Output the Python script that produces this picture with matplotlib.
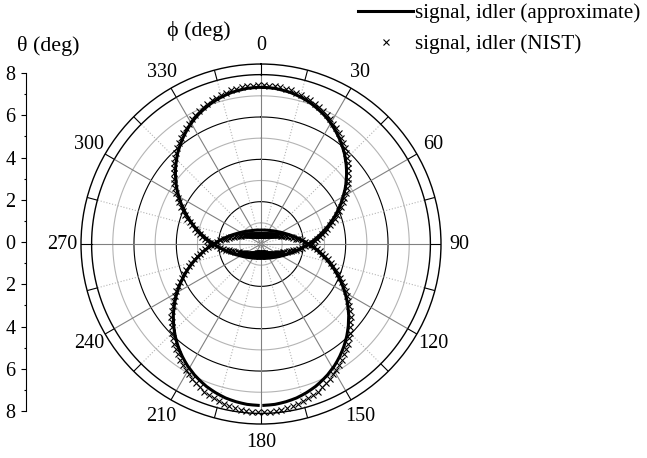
import numpy as np
import matplotlib.pyplot as plt
from matplotlib.lines import Line2D

plt.rcParams['font.family'] = ['Liberation Serif', 'DejaVu Serif']
plt.rcParams['font.size'] = 14.5

# azimuth phi (deg) for one half, 1..179; the other half mirrors it
phi_half = np.arange(1, 180, 2)

# theta (deg), signal ring (upper loop)
sig_apx = [7.40, 7.39, 7.38, 7.35, 7.32, 7.29, 7.24, 7.19, 7.13, 7.07,
           6.99, 6.91, 6.83, 6.74, 6.64, 6.53, 6.42, 6.30, 6.18, 6.05,
           5.92, 5.79, 5.64, 5.50, 5.35, 5.20, 5.04, 4.89, 4.73, 4.56,
           4.40, 4.24, 4.08, 3.91, 3.75, 3.59, 3.43, 3.28, 3.12, 2.97,
           2.83, 2.69, 2.56, 2.43, 2.30, 2.19, 2.07, 1.97, 1.87, 1.78,
           1.69, 1.61, 1.54, 1.47, 1.40, 1.34, 1.29, 1.24, 1.19, 1.14,
           1.10, 1.07, 1.03, 1.00, 0.97, 0.94, 0.92, 0.89, 0.87, 0.85,
           0.83, 0.81, 0.80, 0.78, 0.77, 0.76, 0.75, 0.74, 0.73, 0.72,
           0.71, 0.71, 0.70, 0.70, 0.69, 0.69, 0.68, 0.68, 0.68, 0.68]
sig_nist = [7.50, 7.49, 7.48, 7.45, 7.42, 7.39, 7.34, 7.29, 7.23, 7.17,
            7.09, 7.01, 6.93, 6.84, 6.74, 6.63, 6.52, 6.40, 6.28, 6.15,
            6.02, 5.89, 5.74, 5.60, 5.45, 5.30, 5.14, 4.99, 4.83, 4.66,
            4.50, 4.34, 4.18, 4.01, 3.85, 3.69, 3.53, 3.38, 3.22, 3.07,
            2.93, 2.79, 2.66, 2.53, 2.40, 2.24, 2.07, 1.93, 1.79, 1.67,
            1.55, 1.45, 1.36, 1.27, 1.16, 1.10, 1.05, 1.00, 0.95, 0.90,
            0.86, 0.83, 0.79, 0.76, 0.73, 0.70, 0.68, 0.65, 0.63, 0.61,
            0.59, 0.57, 0.56, 0.54, 0.53, 0.52, 0.51, 0.50, 0.49, 0.48,
            0.47, 0.47, 0.46, 0.46, 0.45, 0.45, 0.44, 0.44, 0.44, 0.44]

# idler ring (lower loop)
idl_apx = [0.66, 0.66, 0.66, 0.66, 0.67, 0.67, 0.68, 0.68, 0.69, 0.69,
           0.70, 0.71, 0.72, 0.73, 0.74, 0.75, 0.76, 0.78, 0.79, 0.81,
           0.83, 0.85, 0.87, 0.89, 0.92, 0.95, 0.97, 1.01, 1.04, 1.08,
           1.12, 1.16, 1.21, 1.26, 1.32, 1.38, 1.45, 1.52, 1.59, 1.68,
           1.76, 1.86, 1.96, 2.07, 2.18, 2.30, 2.43, 2.57, 2.71, 2.85,
           3.00, 3.16, 3.32, 3.48, 3.65, 3.81, 3.98, 4.15, 4.32, 4.49,
           4.66, 4.83, 5.00, 5.16, 5.33, 5.48, 5.64, 5.79, 5.94, 6.08,
           6.22, 6.35, 6.48, 6.60, 6.72, 6.82, 6.93, 7.02, 7.11, 7.20,
           7.27, 7.34, 7.40, 7.46, 7.50, 7.54, 7.57, 7.60, 7.61, 7.62]
idl_nist = [0.42, 0.42, 0.42, 0.42, 0.43, 0.43, 0.44, 0.44, 0.45, 0.45,
            0.46, 0.47, 0.48, 0.49, 0.50, 0.51, 0.52, 0.54, 0.55, 0.57,
            0.59, 0.61, 0.63, 0.65, 0.68, 0.71, 0.73, 0.77, 0.80, 0.84,
            0.88, 0.92, 0.97, 1.02, 1.08, 1.14, 1.25, 1.34, 1.43, 1.54,
            1.65, 1.78, 1.92, 2.07, 2.23, 2.38, 2.51, 2.65, 2.79, 2.93,
            3.08, 3.24, 3.40, 3.56, 3.73, 3.89, 4.06, 4.23, 4.40, 4.57,
            4.75, 4.92, 5.10, 5.26, 5.44, 5.59, 5.76, 5.92, 6.08, 6.23,
            6.38, 6.52, 6.66, 6.79, 6.92, 7.03, 7.15, 7.26, 7.36, 7.46,
            7.54, 7.62, 7.69, 7.76, 7.81, 7.86, 7.89, 7.93, 7.94, 7.95]

phi_ticks = np.arange(0, 360, 30)
theta_ticks = np.arange(-8, 9, 2)


def full(r):
    r = np.asarray(r)
    return np.concatenate([r, r[::-1]])


phi = np.deg2rad(np.concatenate([phi_half, 360 - phi_half[::-1]]))
rs_a, rs_n = full(sig_apx), full(sig_nist)
ri_a, ri_n = full(idl_apx), full(idl_nist)

fig = plt.figure(figsize=(6.47, 4.58), dpi=100)
ax = fig.add_axes([0.1252, 0.0742, 0.5564, 0.786], projection='polar')
ax.set_theta_zero_location('N')
ax.set_theta_direction(-1)
ax.set_ylim(0, 8.5)
ax.set_xticks([])
ax.set_yticks([])
ax.grid(False)
ax.spines['polar'].set_linewidth(1.0)

# grid circles and spokes
tt = np.linspace(0, 2 * np.pi, 721)
for r in range(1, 8):
    ax.plot(tt, np.full_like(tt, r), color='k' if r % 2 == 0 else '#b4b4b4',
            lw=0.8, zorder=1)
ax.plot(tt, np.full_like(tt, 8), color='k', lw=1.0, zorder=1)
for a in range(0, 360, 15):
    t = np.deg2rad(a)
    if a % 30 == 0:
        ax.plot([t, t], [0, 8], color='#808080', lw=0.8, zorder=1)
    else:
        ax.plot([t, t], [0, 8], color='#b4b4b4', lw=0.8, ls=':', zorder=1)
    ax.plot([t, t], [8, 8.5], color='k', lw=0.8, zorder=1)

for a in phi_ticks:
    ax.text(np.deg2rad(a), 9.38, str(a), ha='center', va='center', clip_on=False)

# approximate curves
ax.plot(np.append(phi, phi[0] + 2 * np.pi), np.append(rs_a, rs_a[0]),
        color='k', lw=2.2, zorder=3)
ax.plot(np.concatenate([phi[90:], phi[:90] + 2 * np.pi]),
        np.concatenate([ri_a[90:], ri_a[:90]]), color='k', lw=2.2, zorder=3)
# NIST points
ax.plot(phi, rs_n, ls='none', marker='x', color='k', ms=4.5, mew=0.8, zorder=4)
ax.plot(phi, ri_n, ls='none', marker='x', color='k', ms=4.5, mew=0.8, zorder=4)

fig.text(199 / 647, 1 - 31 / 458, 'ϕ (deg)', ha='center', va='center', fontsize=15.8)
fig.text(48 / 647, 1 - 46 / 458, 'θ (deg)', ha='center', va='center', fontsize=15.8)

# left theta scale
axl = fig.add_axes([0.040, 0.1026, 0.001, 0.738])
axl.set_ylim(-8, 8)
axl.set_yticks(theta_ticks)
axl.set_yticklabels([str(abs(v)) for v in theta_ticks])
axl.set_yticks(np.arange(-7, 8, 2), minor=True)
axl.set_xticks([])
for s in ['top', 'right', 'bottom']:
    axl.spines[s].set_visible(False)
axl.spines['left'].set_linewidth(0.8)
axl.tick_params(axis='y', which='major', direction='out', length=3.6, width=0.8, pad=4)
axl.tick_params(axis='y', which='minor', direction='out', length=1.8, width=0.8)
axl.patch.set_alpha(0)

handles = [Line2D([], [], color='k', lw=2.2),
           Line2D([], [], ls='none', marker='x', color='k', ms=5, mew=0.8)]
fig.legend(handles, ['signal, idler (approximate)', 'signal, idler (NIST)'],
           loc='upper right', bbox_to_anchor=(0.995, 1.0), frameon=False,
           handlelength=2.6, handletextpad=0.1, labelspacing=0.55,
           borderaxespad=0, borderpad=0.15, fontsize=15.2)

fig.savefig('out.png', dpi=100)
